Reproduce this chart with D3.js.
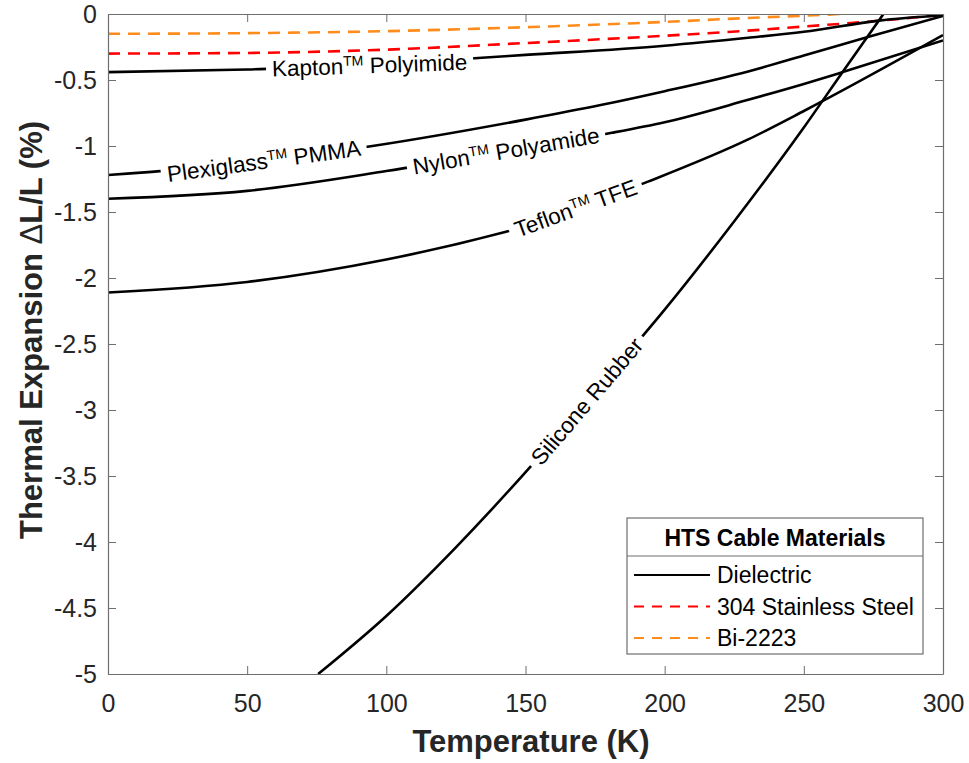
<!DOCTYPE html>
<html><head><meta charset="utf-8">
<script src="https://cdn.jsdelivr.net/npm/d3@7"></script>
<style>
body{margin:0;background:#fff}
svg{display:block}
text{font-family:Arial,"Liberation Sans",sans-serif;fill:#262626}
</style>
</head><body>
<svg id="chart" width="969" height="763"></svg>
<script>
// ---------- data ----------
const xTicks = [0, 50, 100, 150, 200, 250, 300];
const xTickLabels = ["0", "50", "100", "150", "200", "250", "300"];
const yTicks = [0, -0.5, -1, -1.5, -2, -2.5, -3, -3.5, -4, -4.5, -5];
const yTickLabels = ["0", "-0.5", "-1", "-1.5", "-2", "-2.5", "-3", "-3.5", "-4", "-4.5", "-5"];

const kaptonT = [0, 50, 100, 133, 150, 200, 230, 250, 277, 300];
const kaptonV = [-0.44, -0.42, -0.383, -0.333, -0.31, -0.24, -0.18, -0.135, -0.05, -0.01];
const plexiT = [0, 50, 95, 150, 177, 200, 230, 250, 273, 300];
const plexiV = [-1.22, -1.13, -1.0, -0.80, -0.69, -0.585, -0.435, -0.315, -0.175, -0.015];
const nylonT = [0, 50, 100, 150, 181, 200, 230, 250, 264, 300];
const nylonV = [-1.40, -1.34, -1.19, -1.01, -0.90, -0.82, -0.65, -0.53, -0.44, -0.20];
const teflonT = [0, 50, 100, 143, 150, 194, 230, 250, 300];
const teflonV = [-2.11, -2.03, -1.86, -1.65, -1.61, -1.27, -0.95, -0.735, -0.16];
const siliconeT = [75.5, 100, 125, 153, 175, 200, 225, 250, 264, 278.6];
const siliconeV = [-5, -4.56, -4.04, -3.40, -2.86, -2.24, -1.57, -0.86, -0.437, 0];
const steelT = [0, 50, 100, 150, 200, 230, 250, 276, 300];
const steelV = [-0.30, -0.295, -0.27, -0.22, -0.165, -0.126, -0.095, -0.053, -0.005];
const bi2223T = [0, 50, 100, 150, 200, 230, 250, 263, 300];
const bi2223V = [-0.15, -0.145, -0.13, -0.10, -0.06, -0.03, -0.013, 0, 0.045];

const labelMain = ["Kapton", "Plexiglass", "Nylon", "Teflon", "Silicone Rubber"];
const labelSup = ["TM", "TM", "TM", "TM", ""];
const labelRest = [" Polyimide", " PMMA", " Polyamide", " TFE", ""];
const labelAt = [94, 56, 143, 168, 172];

const legendTitle = "HTS Cable Materials";
const legendNames = ["Dielectric", "304 Stainless Steel", "Bi-2223"];

// ---------- layout ----------
const X0 = 108, X1 = 943, Y0 = 14, Y1 = 674;
const svg = d3.select("#chart");
const x = d3.scaleLinear().domain([0, 300]).range([X0, X1]);
const y = d3.scaleLinear().domain([-5, 0]).range([Y1, Y0]);
const axisColor = "#6e6e6e";

const dielectric = [
  {T: kaptonT, V: kaptonV}, {T: plexiT, V: plexiV}, {T: nylonT, V: nylonV},
  {T: teflonT, V: teflonV}, {T: siliconeT, V: siliconeV}
];
const metals = [
  {T: steelT, V: steelV, color: "#ff0000"},
  {T: bi2223T, V: bi2223V, color: "#ff8c1a"}
];

const defs = svg.append("defs");
defs.append("clipPath").attr("id", "plotclip").append("rect")
  .attr("x", X0).attr("y", Y0).attr("width", X1 - X0).attr("height", Y1 - Y0);
const mask = defs.append("mask").attr("id", "lblmask").attr("maskUnits", "userSpaceOnUse")
  .attr("x", 0).attr("y", 0).attr("width", 969).attr("height", 763);
mask.append("rect").attr("x", 0).attr("y", 0).attr("width", 969).attr("height", 763).attr("fill", "#fff");

const line = d3.line().curve(d3.curveMonotoneX).x(d => x(d[0])).y(d => y(d[1]));
const pts = s => s.T.map((t, i) => [t, s.V[i]]);

// labels (measure first, then mask)
const labelG = svg.append("g");
dielectric.forEach((s, i) => {
  const f = d3.scaleLinear().domain(s.T).range(s.V);
  const t = labelAt[i];
  const cx = x(t), cy = y(f(t));
  const dxp = x(t + 6) - x(t - 6), dyp = y(f(t + 6)) - y(f(t - 6));
  const ang = Math.atan2(dyp, dxp) * 180 / Math.PI;
  const txt = labelG.append("text")
    .attr("transform", `translate(${cx},${cy}) rotate(${ang})`)
    .attr("text-anchor", "middle").attr("y", 8)
    .style("font-size", "22.5px").style("fill", "#000");
  txt.append("tspan").text(labelMain[i]);
  if (labelSup[i]) {
    txt.append("tspan").attr("dy", -8).style("font-size", "14px").text(labelSup[i]);
    txt.append("tspan").attr("dy", 8).text(labelRest[i]);
  }
  const w = txt.node().getComputedTextLength() + 12;
  mask.append("rect")
    .attr("transform", `translate(${cx},${cy}) rotate(${ang})`)
    .attr("x", -w / 2).attr("y", -16).attr("width", w).attr("height", 32)
    .attr("fill", "#000");
});

const plot = svg.insert("g", ":first-child").attr("clip-path", "url(#plotclip)");
// metals (dashed)
plot.selectAll("path.metal").data(metals).join("path").attr("class", "metal")
  .attr("d", d => line(pts(d))).attr("fill", "none")
  .attr("stroke", d => d.color).attr("stroke-width", 2.6)
  .attr("stroke-dasharray", "12,8");
// dielectrics
plot.append("g").attr("mask", "url(#lblmask)")
  .selectAll("path").data(dielectric).join("path")
  .attr("d", d => line(pts(d))).attr("fill", "none")
  .attr("stroke", "#000").attr("stroke-width", 2.6);

// ---------- axes ----------
const axG = svg.append("g");
const fmtX = (d, i) => xTickLabels[i];
const fmtY = (d, i) => yTickLabels[i];
const styleAxis = g => {
  g.select(".domain").attr("stroke", axisColor);
  g.selectAll(".tick line").attr("stroke", axisColor);
};
axG.append("g").attr("transform", `translate(0,${Y1})`)
  .call(d3.axisBottom(x).tickValues(xTicks).tickFormat(fmtX).tickSizeInner(-8).tickSizeOuter(0).tickPadding(20))
  .call(styleAxis)
  .selectAll("text").style("font-size", "25px").style("fill", "#262626").attr("font-family", null);
axG.append("g").attr("transform", `translate(0,${Y0})`)
  .call(d3.axisTop(x).tickValues(xTicks).tickFormat("").tickSizeInner(-8).tickSizeOuter(0))
  .call(styleAxis);
axG.append("g").attr("transform", `translate(${X0},0)`)
  .call(d3.axisLeft(y).tickValues(yTicks).tickFormat(fmtY).tickSizeInner(-8).tickSizeOuter(0).tickPadding(11))
  .call(styleAxis)
  .selectAll("text").style("font-size", "25px").style("fill", "#262626").attr("font-family", null);
axG.append("g").attr("transform", `translate(${X1},0)`)
  .call(d3.axisRight(y).tickValues(yTicks).tickFormat("").tickSizeInner(-8).tickSizeOuter(0))
  .call(styleAxis);
axG.selectAll(".domain").attr("stroke-width", 1.2);

// titles
svg.append("text").attr("x", 531).attr("y", 752)
  .attr("text-anchor", "middle").style("font-size", "31px").style("font-weight", "bold")
  .text("Temperature (K)");
const yt = svg.append("text").attr("transform", `translate(42,330) rotate(-90)`)
  .attr("text-anchor", "middle").style("font-size", "31px").style("font-weight", "bold");
yt.append("tspan").text("Thermal Expansion ");
yt.append("tspan").style("font-weight", "normal").text("\u0394");
yt.append("tspan").text("L/L (%)");

// ---------- legend ----------
const LX = 627, LY = 518, LW = 296, LH = 136, LT = 38;
const leg = svg.append("g");
leg.append("rect").attr("x", LX).attr("y", LY).attr("width", LW).attr("height", LH)
  .attr("fill", "#fff").attr("stroke", axisColor).attr("stroke-width", 1.2);
leg.append("line").attr("x1", LX).attr("x2", LX + LW).attr("y1", LY + LT).attr("y2", LY + LT)
  .attr("stroke", axisColor).attr("stroke-width", 1.2);
leg.append("text").attr("x", LX + LW / 2).attr("y", LY + 28).attr("text-anchor", "middle")
  .style("font-size", "23px").style("font-weight", "bold").style("fill", "#000").text(legendTitle);
const legColors = ["#000", metals[0].color, metals[1].color];
const legDash = [null, "10,8", "10,8"];
legendNames.forEach((n, i) => {
  const yy = LY + 57 + i * 31.5;
  leg.append("line").attr("x1", LX + 7).attr("x2", LX + 83).attr("y1", yy).attr("y2", yy)
    .attr("stroke", legColors[i]).attr("stroke-width", 2.2).attr("stroke-dasharray", legDash[i]);
  leg.append("text").attr("x", LX + 90).attr("y", yy + 8).style("font-size", "23px")
    .style("fill", "#000").text(n);
});
</script>
</body></html>
